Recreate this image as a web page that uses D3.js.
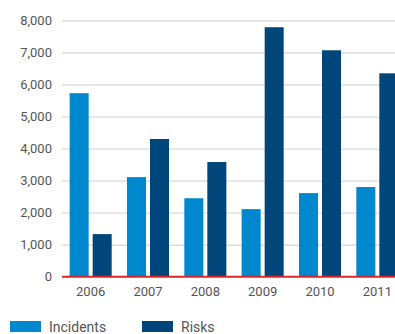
<!DOCTYPE html>
<html>
<head>
<meta charset="utf-8">
<script src="https://cdn.jsdelivr.net/npm/d3@7"></script>
<style>
  html, body { margin: 0; padding: 0; background: #fff; }
  svg { display: block; }
  text { font-family: Roboto, "DejaVu Sans", sans-serif; fill: #555; }
</style>
</head>
<body>
<svg id="chart" width="395" height="334"></svg>
<script>
const years = ["2006", "2007", "2008", "2009", "2010", "2011"];
const seriesNames = ["Incidents", "Risks"];
const incidents = [5730, 3110, 2450, 2110, 2610, 2800];
const risks = [1330, 4300, 3580, 7790, 7070, 6350];
const yTicks = [0, 1000, 2000, 3000, 4000, 5000, 6000, 7000, 8000];
const colors = ["#0088cf", "#00467b"];

const svg = d3.select("#chart");
const plotLeft = 62, plotRight = 406, plotTop = 20.5, plotBottom = 276.7;

const x0 = d3.scaleBand().domain(years).range([plotLeft, plotRight])
  .paddingInner(0.267).paddingOuter(0.1335);
const x1 = d3.scaleBand().domain(seriesNames).range([0, x0.bandwidth()])
  .paddingInner(4 / 23).paddingOuter(0);
const y = d3.scaleLinear().domain([0, 8000]).range([plotBottom, plotTop]);
const color = d3.scaleOrdinal().domain(seriesNames).range(colors);

// gridlines + y labels
const yAxis = d3.axisLeft(y).tickValues(yTicks).tickSize(0).tickPadding(10)
  .tickFormat(d3.format(","));
const gy = svg.append("g").attr("transform", `translate(${plotLeft},0)`).call(yAxis);
gy.select(".domain").remove();
gy.selectAll("text").style("font-size", "13px").attr("fill", "#555");

const grid = d3.axisLeft(y).tickValues(yTicks.filter(d => d > 0)).tickSize(-(395 - plotLeft)).tickFormat("");
const gg = svg.append("g").attr("transform", `translate(${plotLeft},0)`).call(grid);
gg.select(".domain").remove();
gg.selectAll("line").attr("stroke", "#dcdcdc").attr("stroke-width", 1.4);

// bars
const data = years.map((yr, i) => ({ year: yr, values: [
  { key: "Incidents", value: incidents[i] },
  { key: "Risks", value: risks[i] }
]}));

svg.append("g").selectAll("g").data(data).join("g")
  .attr("transform", d => `translate(${x0(d.year)},0)`)
  .selectAll("rect").data(d => d.values).join("rect")
  .attr("x", d => x1(d.key))
  .attr("width", x1.bandwidth())
  .attr("y", d => y(d.value))
  .attr("height", d => y(0) - y(d.value))
  .attr("fill", d => color(d.key));

// baseline
svg.append("line")
  .attr("x1", plotLeft).attr("x2", 395)
  .attr("y1", y(0)).attr("y2", y(0))
  .attr("stroke", "#d9262b").attr("stroke-width", 2);

// x axis labels
const xAxis = d3.axisBottom(x0).tickSize(0).tickPadding(10);
const gx = svg.append("g").attr("transform", `translate(0,${y(0)})`).call(xAxis);
gx.select(".domain").remove();
gx.selectAll("text").style("font-size", "13px").attr("fill", "#555");

// legend
const legendX = [10, 142];
const lg = svg.append("g").selectAll("g").data(seriesNames).join("g")
  .attr("transform", (d, i) => `translate(${legendX[i]},321)`);
lg.append("rect").attr("width", 31).attr("height", 11).attr("fill", d => color(d));
lg.append("text").attr("x", 39).attr("y", 10.5)
  .style("font-size", "14px").attr("fill", "#555").text(d => d);
</script>
</body>
</html>
